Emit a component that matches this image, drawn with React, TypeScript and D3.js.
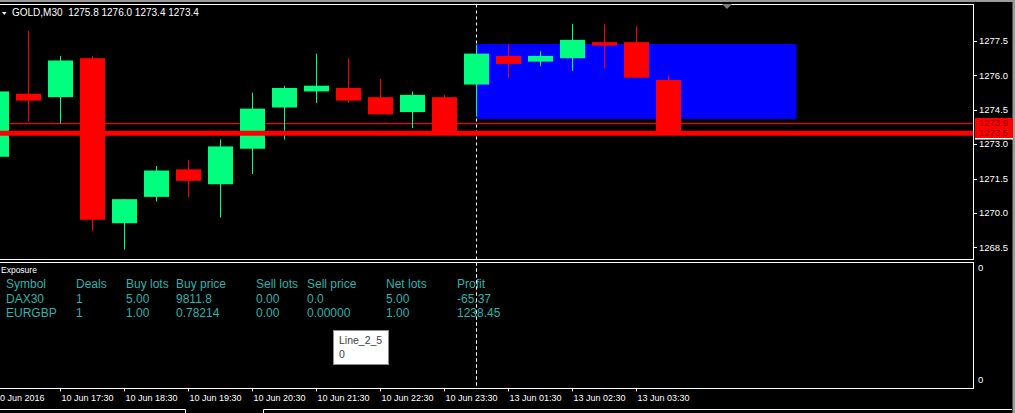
import React from "react";
import * as d3 from "d3";

// ---- Data ----
const categories = [
  "10 Jun 16:30", "10 Jun 17:00", "10 Jun 17:30", "10 Jun 18:00", "10 Jun 18:30",
  "10 Jun 19:00", "10 Jun 19:30", "10 Jun 20:00", "10 Jun 20:30", "10 Jun 21:00",
  "10 Jun 21:30", "10 Jun 22:00", "10 Jun 22:30", "10 Jun 23:00", "10 Jun 23:30",
  "13 Jun 01:00", "13 Jun 01:30", "13 Jun 02:00", "13 Jun 02:30", "13 Jun 03:00",
  "13 Jun 03:30", "13 Jun 04:00",
];
const opens = [1272.45, 1275.2, 1275.05, 1276.75, 1269.55, 1270.7, 1271.9, 1271.25, 1272.8, 1274.6, 1275.3, 1275.45, 1275.05, 1274.4, 1275.05, 1275.6, 1276.85, 1276.6, 1276.75, 1277.45, 1277.45, 1275.8];
const highs = [1275.4, 1277.95, 1276.85, 1276.85, 1270.6, 1272.05, 1272.3, 1273.2, 1275.25, 1275.55, 1276.95, 1276.75, 1275.85, 1275.3, 1275.15, 1277.35, 1277.35, 1277.05, 1278.25, 1278.25, 1278.15, 1276.0];
const lows = [1272.4, 1274.0, 1273.9, 1269.2, 1268.4, 1270.5, 1270.7, 1269.8, 1271.7, 1273.2, 1274.8, 1274.8, 1274.3, 1273.7, 1273.5, 1274.2, 1275.9, 1276.4, 1276.2, 1276.3, 1275.9, 1273.4];
const closes = [1275.3, 1274.9, 1276.65, 1269.7, 1270.6, 1271.85, 1271.4, 1272.9, 1274.55, 1275.45, 1275.55, 1274.9, 1274.3, 1275.15, 1273.55, 1276.95, 1276.5, 1276.85, 1277.55, 1277.3, 1275.9, 1273.4];

const yTicks = [1268.5, 1270.0, 1271.5, 1273.0, 1274.5, 1276.0, 1277.5];
const xTickBars = [0, 2, 4, 6, 8, 10, 12, 14, 16, 18, 20];
const xTickLabels = [
  "10 Jun 2016", "10 Jun 17:30", "10 Jun 18:30", "10 Jun 19:30", "10 Jun 20:30",
  "10 Jun 21:30", "10 Jun 22:30", "10 Jun 23:30", "13 Jun 01:30", "13 Jun 02:30", "13 Jun 03:30",
];

const hLevels = [1273.9, 1273.5];
const zoneBars = [15, 25];
const zonePrices = [1277.37, 1274.1];
const crosshairBar = 15;

const tableHeaders = ["Symbol", "Deals", "Buy lots", "Buy price", "Sell lots", "Sell price", "Net lots", "Profit"];
const tableRows = [
  ["DAX30", "1", "5.00", "9811.8", "0.00", "0.0", "5.00", "-65.37"],
  ["EURGBP", "1", "1.00", "0.78214", "0.00", "0.00000", "1.00", "1238.45"],
];
const tableColX = [6, 76, 126, 176, 256, 307, 386, 457];

const symbol = "GOLD,M30";

// ---- Layout ----
const W = 1015;
const H = 413;
const plotRight = 973.5;
const plotTop = 4.5;
const plotBottom = 259.5;
const subTop = 262.5;
const subBottom = 388.5;

const BULL = "#00ff7f";
const BEAR = "#ff0000";
const FONT = "'Liberation Sans', Arial, sans-serif";
const TEAL = "#2eb3ae";

export default function App() {
  const x = d3.scaleLinear().domain([0, 1]).range([-3.5, 28.5]);
  const y = d3.scaleLinear().domain([1268.5, 1277.5]).range([247.3, 41]);
  const bodyW = 25;
  const last = categories.length - 1;

  return (
    <div style={{ position: "absolute", left: 0, top: 0, width: W, height: H, background: "#000" }}>
      <svg width={W} height={H} style={{ display: "block" }} fontFamily={FONT}>
        <rect x={0} y={0} width={W} height={H} fill="#000" />
        {/* window frame */}
        <rect x={0} y={0} width={W} height={2} fill="#9a9a9a" />
        <rect x={W - 2.5} y={0} width={2.5} height={H} fill="#9a9a9a" />

        <defs>
          <clipPath id="mainClip">
            <rect x={0} y={plotTop} width={plotRight} height={plotBottom - plotTop} />
          </clipPath>
        </defs>

        <g clipPath="url(#mainClip)">
          {/* blue zone */}
          <rect
            x={x(zoneBars[0])}
            y={y(zonePrices[0])}
            width={x(zoneBars[1]) - x(zoneBars[0])}
            height={y(zonePrices[1]) - y(zonePrices[0])}
            fill="#0000ff"
          />
          {/* thin level line */}
          <rect x={0} y={Math.floor(y(hLevels[0]))} width={plotRight} height={1.2} fill="#ff0000" />
        </g>

        {/* crosshair dashed line */}
        <line
          x1={x(crosshairBar)}
          x2={x(crosshairBar)}
          y1={plotTop}
          y2={386}
          stroke="#ffffff"
          strokeWidth={1}
          strokeDasharray="3,3"
        />

        <g clipPath="url(#mainClip)">
          {categories.map((c, i) => {
            const o = opens[i], h = highs[i], l = lows[i], cl = closes[i];
            const bull = cl >= o;
            const col = bull ? BULL : BEAR;
            const cx = x(i);
            const top = y(Math.max(o, cl));
            const bot = y(Math.min(o, cl));
            return (
              <g key={c}>
                <line x1={cx} x2={cx} y1={y(h)} y2={y(l)} stroke={col} strokeWidth={1} />
                <rect x={cx - bodyW / 2} y={top} width={bodyW} height={Math.max(1, bot - top)} fill={col} />
              </g>
            );
          })}
          {/* thick level line */}
          <line x1={0} x2={plotRight} y1={y(hLevels[1]) + 0.5} y2={y(hLevels[1]) + 0.5} stroke="#ff0000" strokeWidth={5} />
        </g>

        {/* main border */}
        <rect x={-1} y={plotTop} width={plotRight + 1} height={plotBottom - plotTop} fill="none" stroke="#fff" strokeWidth={1} />

        {/* header */}
        <path d="M2,12 L6.5,12 L4.25,15 Z" fill="#fff" />
        <text x={12} y={16} fill="#fff" fontSize={10} style={{ whiteSpace: "pre" }}>
          {`${symbol}  ${opens[last].toFixed(1)} ${highs[last].toFixed(1)} ${lows[last].toFixed(1)} ${closes[last].toFixed(1)}`}
        </text>
        <path d="M722,4 L732,4 L727,9 Z" fill="#7a7a7a" />

        {/* y axis */}
        {yTicks.map((t) => (
          <g key={t}>
            <line x1={plotRight} x2={plotRight + 3.5} y1={Math.round(y(t)) + 0.5} y2={Math.round(y(t)) + 0.5} stroke="#fff" />
            <text x={979} y={y(t)} dy="0.35em" fill="#fff" fontSize={9.5}>
              {t.toFixed(1)}
            </text>
          </g>
        ))}

        {/* level price labels */}
        <rect x={975} y={118} width={38} height={10} fill="#ff0000" />
        <rect x={975} y={128} width={38} height={10} fill="#ff0000" />
        <rect x={975} y={138} width={38} height={1.5} fill="#fff" />
        <text x={979} y={123} dy="0.35em" fill="#8a0000" fontSize={9.5}>{hLevels[0].toFixed(1)}</text>
        <text x={979} y={132.5} dy="0.35em" fill="#8a0000" fontSize={9.5}>{hLevels[1].toFixed(1)}</text>

        {/* subwindow */}
        <rect x={-1} y={subTop} width={plotRight + 1} height={subBottom - subTop} fill="none" stroke="#fff" strokeWidth={1} />
        <text x={1} y={273} fill="#fff" fontSize={8.5}>Exposure</text>
        <text x={978} y={268} dy="0.35em" fill="#fff" fontSize={9.5}>0</text>
        <text x={978} y={380} dy="0.35em" fill="#fff" fontSize={9.5}>0</text>

        {tableHeaders.map((hd, j) => (
          <text key={hd} x={tableColX[j]} y={288} fill={TEAL} fontSize={12}>{hd}</text>
        ))}
        {tableRows.map((row, r) =>
          row.map((v, j) => (
            <text key={`${r}-${j}`} x={tableColX[j]} y={302.5 + r * 14.5} fill={TEAL} fontSize={12}>{v}</text>
          ))
        )}

        {/* crosshair portion over table text */}
        <line x1={x(crosshairBar)} x2={x(crosshairBar)} y1={subTop} y2={386} stroke="#fff" strokeDasharray="3,3" />

        {/* tooltip */}
        <rect x={333.5} y={330.5} width={55} height={34} fill="#fff" stroke="#8c8c8c" />
        <text x={339} y={344} fill="#404040" fontSize={10.5}>Line_2_5</text>
        <text x={339} y={358} fill="#404040" fontSize={10.5}>0</text>

        {/* x axis */}
        {xTickBars.map((b, k) => (
          <g key={b}>
            {k > 0 && <line x1={Math.floor(x(b)) + 0.5} x2={Math.floor(x(b)) + 0.5} y1={subBottom} y2={subBottom + 3} stroke="#fff" />}
            <text x={k === 0 ? -5 : x(b) + 1} y={401} fill="#fff" fontSize={9}>
              {xTickLabels[k]}
            </text>
          </g>
        ))}

        {/* bottom tab strip */}
        <path d="M0,409.5 H185.5 V413" fill="none" stroke="#fff" />
        <path d="M263.5,413 V409.5 H1012" fill="none" stroke="#fff" />
      </svg>
    </div>
  );
}
